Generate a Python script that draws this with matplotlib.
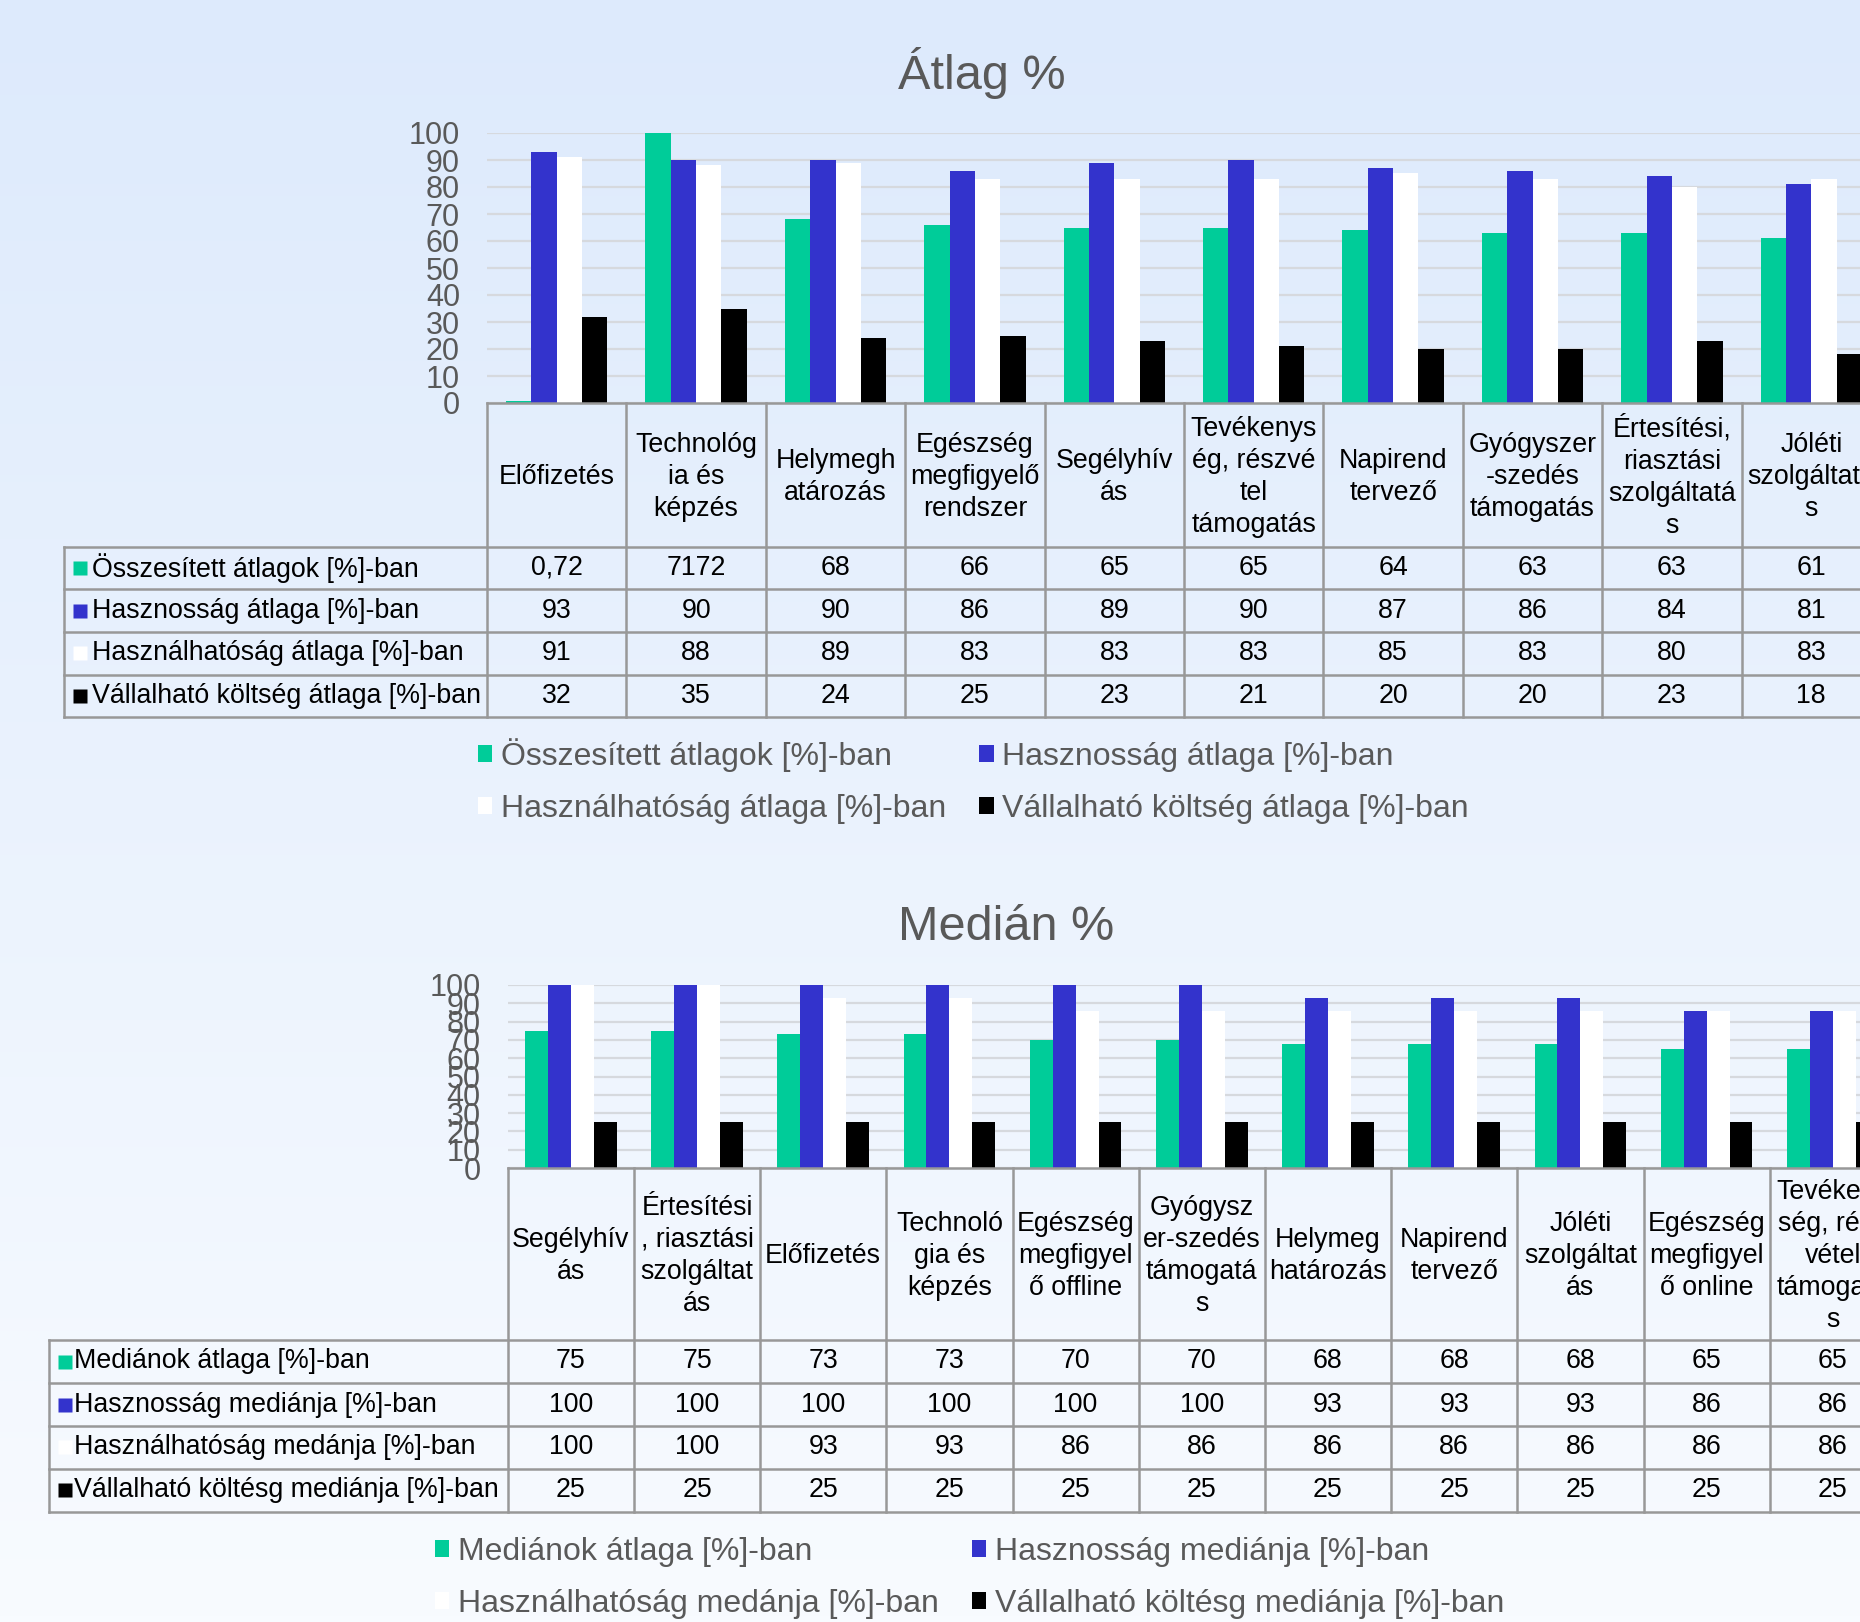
import numpy as np
import matplotlib
matplotlib.use("Agg")
import matplotlib.pyplot as plt
from matplotlib.patches import Patch

plt.rcParams['font.family'] = ['Liberation Sans', 'DejaVu Sans']

W, H = 1860, 1622

# --- Átlag % ---
atlag_cats = ["Előfizetés", "Technológ\nia és\nképzés", "Helymegh\natározás",
              "Egészség\nmegfigyelő\nrendszer", "Segélyhív\nás",
              "Tevékenys\nég, részvé\ntel\ntámogatás", "Napirend\ntervező",
              "Gyógyszer\n-szedés\ntámogatás", "Értesítési,\nriasztási\nszolgáltatá\ns",
              "Jóléti\nszolgáltatá\ns"]
atlag_names = ["Összesített átlagok [%]-ban", "Hasznosság átlaga [%]-ban",
               "Használhatóság átlaga [%]-ban", "Vállalható költség átlaga [%]-ban"]
atlag_osszes = [0.72, 7172, 68, 66, 65, 65, 64, 63, 63, 61]
atlag_haszn = [93, 90, 90, 86, 89, 90, 87, 86, 84, 81]
atlag_hasznal = [91, 88, 89, 83, 83, 83, 85, 83, 80, 83]
atlag_koltseg = [32, 35, 24, 25, 23, 21, 20, 20, 23, 18]

# --- Medián % ---
median_cats = ["Segélyhív\nás", "Értesítési\n, riasztási\nszolgáltat\nás", "Előfizetés",
               "Technoló\ngia és\nképzés", "Egészség\nmegfigyel\nő offline",
               "Gyógysz\ner-szedés\ntámogatá\ns", "Helymeg\nhatározás", "Napirend\ntervező",
               "Jóléti\nszolgáltat\nás", "Egészség\nmegfigyel\nő online",
               "Tevékeny\nség, rész\nvétel\ntámogatá\ns"]
median_names = ["Mediánok átlaga [%]-ban", "Hasznosság mediánja [%]-ban",
                "Használhatóság medánja [%]-ban", "Vállalható költésg mediánja [%]-ban"]
median_atlag = [75, 75, 73, 73, 70, 70, 68, 68, 68, 65, 65]
median_haszn = [100, 100, 100, 100, 100, 100, 93, 93, 93, 86, 86]
median_hasznal = [100, 100, 93, 93, 86, 86, 86, 86, 86, 86, 86]
median_koltseg = [25, 25, 25, 25, 25, 25, 25, 25, 25, 25, 25]

colors = ["#00CC99", "#3333CC", "#FFFFFF", "#000000"]
GRAY_TXT = "#595959"
LINE = "#989898"
TFS = 19.3  # table font size


def fmt(v):
    return f"{v:g}".replace(".", ",")


def draw_chart(fig, title, cats, series, names, g):
    n = len(cats)
    cw = g["cat_w"]
    x0 = g["plot_left"]
    # bar area
    ax = fig.add_axes([x0 / W, 1 - g["y0"] / H, n * cw / W, (g["y0"] - g["y100"]) / H])
    ax.set_facecolor("none")
    ax.set_xlim(-0.5, n - 0.5)
    ax.set_ylim(0, 100)
    for s in ax.spines.values():
        s.set_visible(False)
    ax.set_yticks(np.arange(0, 101, 10))
    ax.set_xticks([])
    ax.yaxis.grid(True, color="#d6d9de", lw=1.6)
    ax.set_axisbelow(True)
    ax.tick_params(axis="y", length=0, labelsize=22, labelcolor=GRAY_TXT, pad=19.5)
    bw = 1 / 5.5
    xs = np.arange(n)
    for k, vals in enumerate(series):
        ax.bar(xs + (k - 1.5) * bw, vals, width=bw, color=colors[k], edgecolor="none", zorder=3)

    # data table
    rows = g["rows"]
    tl = g["table_left"]
    xl = -0.5 - (x0 - tl) / cw
    at = fig.add_axes([tl / W, 1 - rows[-1] / H, (x0 + n * cw - tl) / W, (rows[-1] - g["y0"]) / H])
    at.set_xlim(xl, n - 0.5)
    at.set_ylim(rows[-1], g["y0"])
    at.axis("off")
    kw = dict(color=LINE, lw=1.8, clip_on=False, solid_capstyle="projecting")
    at.plot([-0.5, n - 0.5], [g["y0"], g["y0"]], **kw)
    for r in rows:
        at.plot([xl, n - 0.5], [r, r], **kw)
    at.plot([xl, xl], [rows[0], rows[-1]], **kw)
    for i in range(n + 1):
        at.plot([i - 0.5, i - 0.5], [g["y0"], rows[-1]], **kw)
    for i, c in enumerate(cats):
        at.text(i, (g["y0"] + rows[0]) / 2 + 2, c, ha="center", va="center",
                fontsize=TFS, linespacing=1.3, color="black")
    for k, vals in enumerate(series):
        yc = (rows[k] + rows[k + 1]) / 2
        at.plot([xl + 15.5 / cw], [yc], marker="s", ms=10, color=colors[k], mec="none", clip_on=False)
        at.text(xl + g["lab_off"] / cw, yc, names[k], ha="left", va="center",
                fontsize=TFS, color="black")
        for i, v in enumerate(vals):
            at.text(i, yc, fmt(v), ha="center", va="center", fontsize=TFS, color="black")

    fig.text(g["title_x"] / W, 1 - g["title_base"] / H, title, ha="center", va="baseline",
             fontsize=35, color=GRAY_TXT)

    handles = [Patch(facecolor=colors[k], edgecolor="none") for k in (0, 2, 1, 3)]
    labels = [names[k] for k in (0, 2, 1, 3)]
    fig.legend(handles, labels, ncol=2, loc="upper left",
               bbox_to_anchor=(g["leg_x"] / W, 1 - g["leg_y"] / H),
               frameon=False, fontsize=23, labelcolor=GRAY_TXT,
               handlelength=0.44, handleheight=0.44, handletextpad=0.27,
               columnspacing=1.05, labelspacing=0.68, borderpad=0, borderaxespad=0)


fig = plt.figure(figsize=(W / 100, H / 100), dpi=100)

# gradient background
bg = fig.add_axes([0, 0, 1, 1], zorder=-10)
top_c = np.array([221, 234, 252]) / 255
bot_c = np.array([248, 251, 255]) / 255
t = np.linspace(0, 1, 256)[:, None, None]
grad = top_c * (1 - t) + bot_c * t
bg.imshow(grad, aspect="auto", extent=[0, 1, 0, 1])
bg.axis("off")

geom_top = dict(plot_left=487, cat_w=139.4, y100=133, y0=403, table_left=64,
                rows=[546.7, 589.3, 632, 674.6, 717], title_x=982, title_base=89,
                leg_x=478, leg_y=738, lab_off=27.7)
geom_bot = dict(plot_left=507.7, cat_w=126.2, y100=985, y0=1168, table_left=49,
                rows=[1340, 1383, 1426, 1468.5, 1511.5], title_x=1006, title_base=940,
                leg_x=435, leg_y=1537, lab_off=24.7)

draw_chart(fig, "Átlag %", atlag_cats,
           [atlag_osszes, atlag_haszn, atlag_hasznal, atlag_koltseg], atlag_names, geom_top)
draw_chart(fig, "Medián %", median_cats,
           [median_atlag, median_haszn, median_hasznal, median_koltseg], median_names, geom_bot)

fig.savefig("out.png", dpi=100)
